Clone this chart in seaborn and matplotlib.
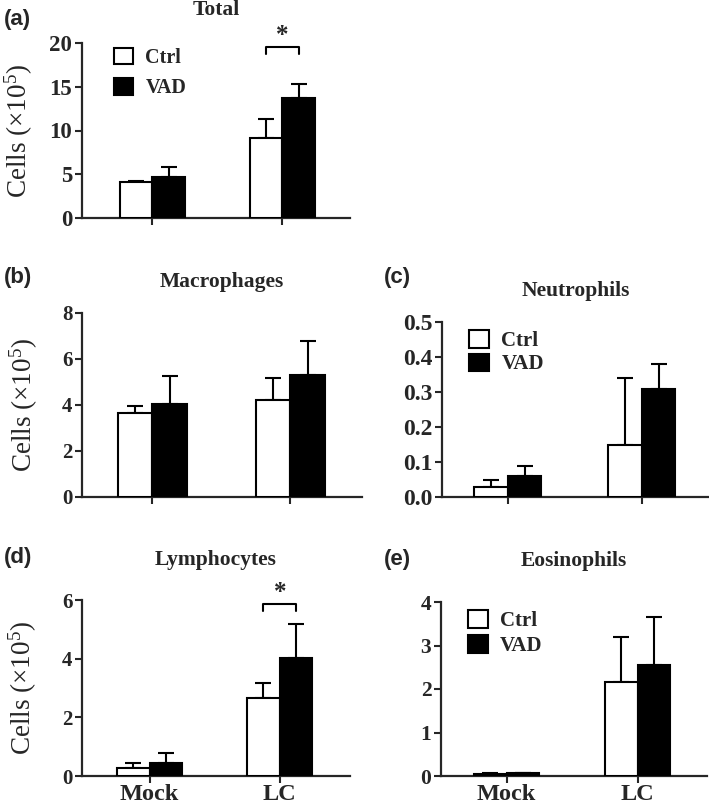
import numpy as np
import pandas as pd
import seaborn as sns
import matplotlib.pyplot as plt
from matplotlib.patches import Patch

conditions = ["Mock", "LC"]
groups = ["Ctrl", "VAD"]

total_ctrl = [4.06, 9.1]
total_ctrl_err = [0.15, 2.2]
total_vad = [4.67, 13.7]
total_vad_err = [1.2, 1.6]

macro_ctrl = [3.64, 4.22]
macro_ctrl_err = [0.32, 0.97]
macro_vad = [4.04, 5.29]
macro_vad_err = [1.2, 1.5]

neutro_ctrl = [0.028, 0.15]
neutro_ctrl_err = [0.021, 0.19]
neutro_vad = [0.061, 0.31]
neutro_vad_err = [0.029, 0.07]

lympho_ctrl = [0.28, 2.67]
lympho_ctrl_err = [0.15, 0.51]
lympho_vad = [0.45, 4.02]
lympho_vad_err = [0.32, 1.15]

eos_ctrl = [0.05, 2.16]
eos_ctrl_err = [0.01, 1.04]
eos_vad = [0.07, 2.56]
eos_vad_err = [0.01, 1.09]

sns.set_style("ticks")
plt.rcParams["font.family"] = ["Liberation Serif", "DejaVu Serif"]
plt.rcParams["mathtext.default"] = "regular"

W, H = 709, 806
fig = plt.figure(figsize=(W / 100, H / 100), dpi=100)


def add_axes(left, right, top, bottom):
    return fig.add_axes([left / W, 1 - bottom / H, (right - left) / W, (bottom - top) / H])


def draw_panel(ax, ctrl, ctrl_err, vad, vad_err, title, pad, yticks, xlim, tick_size=15,
               fmt="%d", xlabels=False, ylabel_x=None, legend=None, sig=None):
    df = pd.DataFrame({
        "condition": conditions * 2,
        "group": ["Ctrl"] * 2 + ["VAD"] * 2,
        "value": ctrl + vad,
    })
    sns.barplot(data=df, x="condition", y="value", hue="group", order=conditions,
                hue_order=groups, palette={"Ctrl": "white", "VAD": "black"},
                edgecolor="black", linewidth=1.5, width=0.5, gap=0,
                errorbar=None, legend=False, ax=ax, zorder=3)
    # upper-only error bars, like the original figure
    for cont, errs in zip(ax.containers, [ctrl_err, vad_err]):
        xs = [p.get_x() + p.get_width() / 2 for p in cont.patches]
        tops = [p.get_height() for p in cont.patches]
        ax.errorbar(xs, tops, yerr=[np.zeros(len(errs)), errs], fmt="none",
                    ecolor="black", elinewidth=1.5, capsize=5.5, capthick=1.5, zorder=2)
    ax.set_xlim(*xlim)
    ax.set_ylim(yticks[0], yticks[-1])
    ax.set_yticks(yticks)
    ax.set_yticklabels([fmt % t for t in yticks], fontsize=tick_size, fontweight="bold")
    ax.set_xlabel("")
    if xlabels:
        ax.set_xticklabels(conditions, fontsize=17.5, fontweight="bold")
    else:
        ax.set_xticklabels([])
    if ylabel_x is not None:
        ax.set_ylabel("Cells (×10$^5$)", fontsize=19.5)
        ax.yaxis.set_label_coords(ylabel_x, 0.5)
    else:
        ax.set_ylabel("")
    ax.set_title(title, fontsize=15.5, fontweight="bold", pad=pad)
    sns.despine(ax=ax)
    for s in ["left", "bottom"]:
        ax.spines[s].set_linewidth(1.6)
    ax.tick_params(axis="y", width=1.5, length=5, pad=2)
    ax.tick_params(axis="x", width=1.5, length=5, pad=0.5)
    if legend is not None:
        handles = [Patch(facecolor="white", edgecolor="black", linewidth=1.5, label="Ctrl"),
                   Patch(facecolor="black", edgecolor="black", linewidth=1.5, label="VAD")]
        ax.legend(handles=handles, loc="upper left", bbox_to_anchor=legend[0],
                  frameon=False, handlelength=0.95, handleheight=0.9, handletextpad=0.6,
                  labelspacing=legend[1], borderaxespad=0,
                  prop={"weight": "bold", "size": legend[2]})
    if sig is not None:
        p0 = ax.containers[0].patches[1]
        p1 = ax.containers[1].patches[1]
        x0 = p0.get_x() + p0.get_width() / 2
        x1 = p1.get_x() + p1.get_width() / 2
        top, leg, star = sig
        ax.plot([x0, x0, x1, x1], [leg, top, top, leg], color="black", lw=1.5,
                clip_on=False, zorder=4)
        ax.text((x0 + x1) / 2, star, "*", ha="center", va="center", fontsize=18,
                fontweight="bold", clip_on=False)


ax_a = add_axes(82, 350, 43, 218)
draw_panel(ax_a, total_ctrl, total_ctrl_err, total_vad, total_vad_err, "Total", 20,
           [0, 5, 10, 15, 20], (-0.54, 1.52), tick_size=16.5, ylabel_x=-0.175,
           legend=((0.09, 1.02), 0.5, 14.5), sig=(19.6, 18.8, 20.9))

ax_b = add_axes(82, 362, 313, 497)
draw_panel(ax_b, macro_ctrl, macro_ctrl_err, macro_vad, macro_vad_err, "Macrophages", 19,
           [0, 2, 4, 6, 8], (-0.51, 1.52), ylabel_x=-0.15)

ax_c = add_axes(442, 709, 322, 497)
draw_panel(ax_c, neutro_ctrl, neutro_ctrl_err, neutro_vad, neutro_vad_err, "Neutrophils", 19,
           [0.0, 0.1, 0.2, 0.3, 0.4, 0.5], (-0.49, 1.5), tick_size=17, fmt="%.1f",
           legend=((0.07, 1.0), 0.12, 15))

ax_d = add_axes(82, 350, 600, 776)
draw_panel(ax_d, lympho_ctrl, lympho_ctrl_err, lympho_vad, lympho_vad_err, "Lymphocytes", 25,
           [0, 2, 4, 6], (-0.52, 1.54), xlabels=True, ylabel_x=-0.16,
           sig=(5.86, 5.63, 6.25))

ax_e = add_axes(441, 707, 602, 776)
draw_panel(ax_e, eos_ctrl, eos_ctrl_err, eos_vad, eos_vad_err, "Eosinophils", 26,
           [0, 1, 2, 3, 4], (-0.5, 1.53), tick_size=15.5, xlabels=True,
           legend=((0.07, 1.0), 0.2, 15))

for lab, x, y in [("(a)", 4, 19), ("(b)", 4, 277), ("(c)", 384, 278),
                  ("(d)", 4, 558), ("(e)", 384, 559)]:
    fig.text(x / W, 1 - y / H, lab, fontsize=16, fontweight="bold",
             family="Liberation Sans", va="center", ha="left")

fig.savefig("out.png", dpi=100)
